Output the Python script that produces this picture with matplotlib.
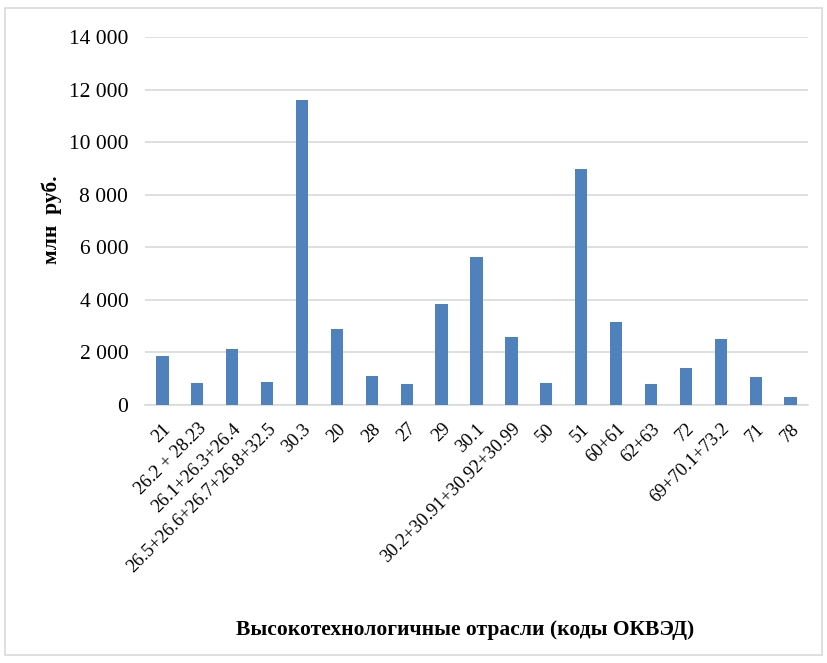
import matplotlib.pyplot as plt
from matplotlib.patches import Rectangle
from matplotlib.ticker import FuncFormatter

codes = ['21', '26.2 + 28.23', '26.1+26.3+26.4', '26.5+26.6+26.7+26.8+32.5',
         '30.3', '20', '28', '27', '29', '30.1', '30.2+30.91+30.92+30.99',
         '50', '51', '60+61', '62+63', '72', '69+70.1+73.2', '71', '78']
values = [1860, 825, 2115, 860, 11620, 2900, 1100, 800, 3850, 5645, 2570,
          835, 8965, 3150, 785, 1405, 2495, 1050, 290]

plt.rcParams['font.family'] = ['Liberation Serif', 'DejaVu Serif']

fig = plt.figure(figsize=(8.27, 6.63), dpi=100)
ax = fig.add_axes([145 / 827, 1 - 405 / 663, 663 / 827, 368 / 663])

x = range(len(codes))
ax.bar(x, values, width=0.35, color='#4f81bd', zorder=3)

ax.set_ylim(0, 14000)
ax.set_xlim(-0.5, len(codes) - 0.5)
ax.set_yticks(range(0, 14001, 2000))
ax.yaxis.set_major_formatter(FuncFormatter(lambda v, p: f'{int(v):,}'.replace(',', ' ')))
ax.grid(axis='y', color='#d9d9d9', linewidth=1.2, zorder=0)
ax.set_xticks(list(x))
ax.set_xticklabels(codes, rotation=45, ha='right', rotation_mode='anchor', fontsize=13.3)
ax.tick_params(axis='both', length=0)
ax.tick_params(axis='y', pad=12, labelsize=15.5)
ax.tick_params(axis='x', pad=11)
for s in ['top', 'right', 'left']:
    ax.spines[s].set_visible(False)
ax.spines['bottom'].set_color('#d9d9d9')
ax.spines['bottom'].set_linewidth(1.2)

fig.text(52 / 827, 1 - 220 / 663, 'млн  руб.', rotation=90, ha='center', va='center',
         fontsize=15.5, fontweight='bold')
fig.text(465 / 827, 1 - 630 / 663, 'Высокотехнологичные отрасли (коды ОКВЭД)',
         ha='center', va='center', fontsize=15.5, fontweight='bold')

# outer chart border
fig.patches.append(Rectangle((5 / 827, 8 / 663), 817 / 827, 647 / 663, transform=fig.transFigure,
                             fill=False, edgecolor='#d9d9d9', linewidth=1.2))

fig.savefig('out.png', dpi=100)
